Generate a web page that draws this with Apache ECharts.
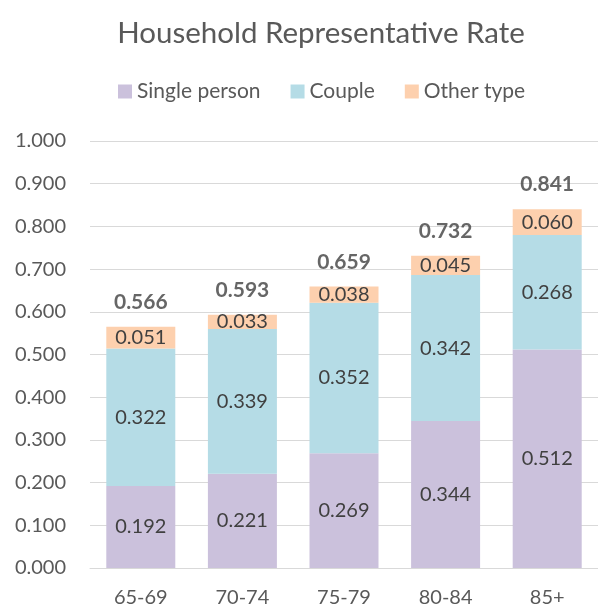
<!DOCTYPE html>
<html>
<head>
<meta charset="utf-8">
<script src="https://cdn.jsdelivr.net/npm/echarts@6/dist/echarts.min.js"></script>
<style>
    html, body { margin: 0; padding: 0; background: #fff; }
    #chart { width: 598px; height: 608px; }
</style>
</head>
<body>
<div id="chart"></div>
<script>
const ageGroups = ['65-69', '70-74', '75-79', '80-84', '85+']
const singlePerson = [0.192, 0.221, 0.269, 0.344, 0.512]
const couple = [0.322, 0.339, 0.352, 0.342, 0.268]
const otherType = [0.051, 0.033, 0.038, 0.045, 0.060]
const totals = [0.566, 0.593, 0.659, 0.732, 0.841]

const font = 'Lato, "Open Sans", sans-serif'
const segLabel = {
    show: true,
    position: 'inside',
    color: '#404040',
    fontSize: 20,
    fontFamily: font,
    formatter: p => p.value.toFixed(3)
}

let myChart = echarts.init(document.getElementById('chart'))
let option = {
    animation: false,
    title: {
        text: 'Household Representative Rate',
        left: 316,
        textAlign: 'center',
        top: 13,
        textStyle: {
            color: '#595959',
            fontSize: 29.5,
            fontWeight: 'normal',
            fontFamily: font
        }
    },
    legend: {
        data: ['Single person', 'Couple', 'Other type'],
        left: 113,
        top: 76,
        itemWidth: 14,
        itemHeight: 14,
        itemGap: 30,
        icon: 'rect',
        textStyle: {
            color: '#595959',
            fontSize: 21,
            fontFamily: font
        }
    },
    grid: {
        left: 90,
        top: 141,
        width: 518,
        bottom: 40,
        containLabel: false
    },
    xAxis: {
        type: 'category',
        data: ageGroups,
        axisTick: { show: false },
        axisLine: { lineStyle: { color: '#d9d9d9' } },
        axisLabel: {
            color: '#595959',
            fontSize: 20,
            fontFamily: font,
            margin: 20
        }
    },
    yAxis: {
        type: 'value',
        min: 0,
        max: 1,
        interval: 0.1,
        axisLine: { show: false },
        axisTick: { show: false },
        splitLine: { lineStyle: { color: '#d9d9d9' } },
        axisLabel: {
            color: '#595959',
            fontSize: 20,
            fontFamily: font,
            margin: 24,
            formatter: v => v.toFixed(3)
        }
    },
    series: [
        {
            name: 'Single person',
            type: 'bar',
            stack: 'Total',
            barWidth: 69,
            itemStyle: { color: '#cbc1dc' },
            label: segLabel,
            data: singlePerson
        },
        {
            name: 'Couple',
            type: 'bar',
            stack: 'Total',
            barWidth: 69,
            itemStyle: { color: '#b5dce6' },
            label: segLabel,
            data: couple
        },
        {
            name: 'Other type',
            type: 'bar',
            stack: 'Total',
            barWidth: 69,
            itemStyle: { color: '#fdd0ae' },
            label: segLabel,
            data: otherType
        },
        {
            name: 'Total',
            type: 'scatter',
            symbolSize: 0,
            silent: true,
            label: {
                show: true,
                position: 'top',
                distance: 14,
                color: '#404040',
                fontSize: 21,
                fontWeight: 'bold',
                fontFamily: font,
                formatter: p => p.value.toFixed(3)
            },
            data: totals
        }
    ]
};
myChart.setOption(option);
</script>
</body>
</html>
